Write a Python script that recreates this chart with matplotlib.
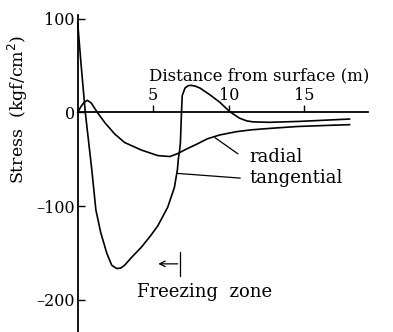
import matplotlib
matplotlib.use("Agg")
import matplotlib.pyplot as plt

# Data (distance in m, stress in kgf/cm^2)
tang_x = [0.0, 0.2, 0.5, 0.93, 1.2, 1.52, 1.92, 2.25, 2.58, 2.85, 3.1, 3.6, 4.2, 4.8, 5.3,
          5.96, 6.4, 6.6, 6.66, 6.75, 6.8, 6.87, 6.92, 7.1, 7.3, 7.5, 7.8, 8.1, 8.74, 9.4,
          10.06, 10.7, 11.2, 11.6, 12.7, 14.7, 18.0]
tang_y = [95, 55, 0, -61, -104, -128, -150, -163, -166.5, -166, -163, -154, -144, -132, -121,
          -101, -80, -61, -50, -40, -32, 0, 18, 26, 28.5, 29, 28, 26, 19, 11,
          1, -6, -9, -10, -10.5, -9.5, -7]
rad_x = [0.0, 0.2, 0.4, 0.64, 0.9, 1.1, 1.3, 1.8, 2.45, 3.1, 4.2, 5.3, 6.1, 6.6, 7.2,
         7.86, 8.6, 9.4, 10.5, 11.5, 12.7, 14.5, 16.5, 18.0]
rad_y = [0, 6, 10.5, 13, 10, 5, 0, -11, -23, -32, -40, -46, -47, -44, -39,
         -34, -28, -24, -20.5, -18.5, -17, -15, -13.8, -13]

x_ticks = [5, 10, 15]
y_ticks = [100, 0, -100, -200]
y_tick_labels = ["100", "0", "\u2013100", "\u2013200"]

plt.rcParams['font.family'] = ['DejaVu Serif']

fig = plt.figure(figsize=(3.93, 3.32), dpi=100)
ax = fig.add_axes([0, 0, 1, 1])
ax.set_xlim(-5.15, 20.88)
ax.set_ylim(-234.2, 120.0)

lw = 1.2
ax.plot(tang_x, tang_y, color='black', lw=lw, solid_joinstyle='round')
ax.plot(rad_x, rad_y, color='black', lw=lw, solid_joinstyle='round')

# Axes
ax.spines['right'].set_visible(False)
ax.spines['bottom'].set_visible(False)
ax.spines['left'].set_position(('data', 0))
ax.spines['left'].set_bounds(-234.2, 104)
ax.spines['top'].set_position(('data', 0))
ax.spines['top'].set_bounds(0, 19.2)
ax.spines['left'].set_linewidth(1.3)
ax.spines['top'].set_linewidth(1.3)
ax.patch.set_visible(False)

ax.xaxis.tick_top()
ax.set_xticks(x_ticks)
ax.set_xticklabels([str(v) for v in x_ticks])
ax.tick_params(axis='x', direction='out', length=5, width=1, pad=1, labelsize=11.5)
ax.set_yticks(y_ticks)
ax.set_yticklabels(y_tick_labels)
ax.tick_params(axis='y', direction='in', length=5, width=1, pad=2, labelsize=11.5)

ax.text(12.0, 39, "Distance from surface (m)", ha='center', va='center', fontsize=12)
fig.text(0.046, 0.669, "Stress  (kgf/cm$^2$)", rotation=90, ha='center', va='center', fontsize=12.5)

# Annotations
ax.plot([9.1, 10.6], [-27, -44], color='black', lw=0.9)
ax.text(11.35, -47, "radial", ha='left', va='center', fontsize=13)
ax.plot([6.6, 10.75], [-65, -70], color='black', lw=0.9)
ax.text(11.35, -70, "tangential", ha='left', va='center', fontsize=13)

ax.plot([6.8, 6.8], [-149, -174], color='black', lw=0.9)
ax.annotate("", xy=(5.15, -161.5), xytext=(6.8, -161.5),
            arrowprops=dict(arrowstyle='->', color='black', lw=0.9))
ax.text(3.95, -191.5, "Freezing  zone", ha='left', va='center', fontsize=13)

fig.savefig("out.png", dpi=100)
